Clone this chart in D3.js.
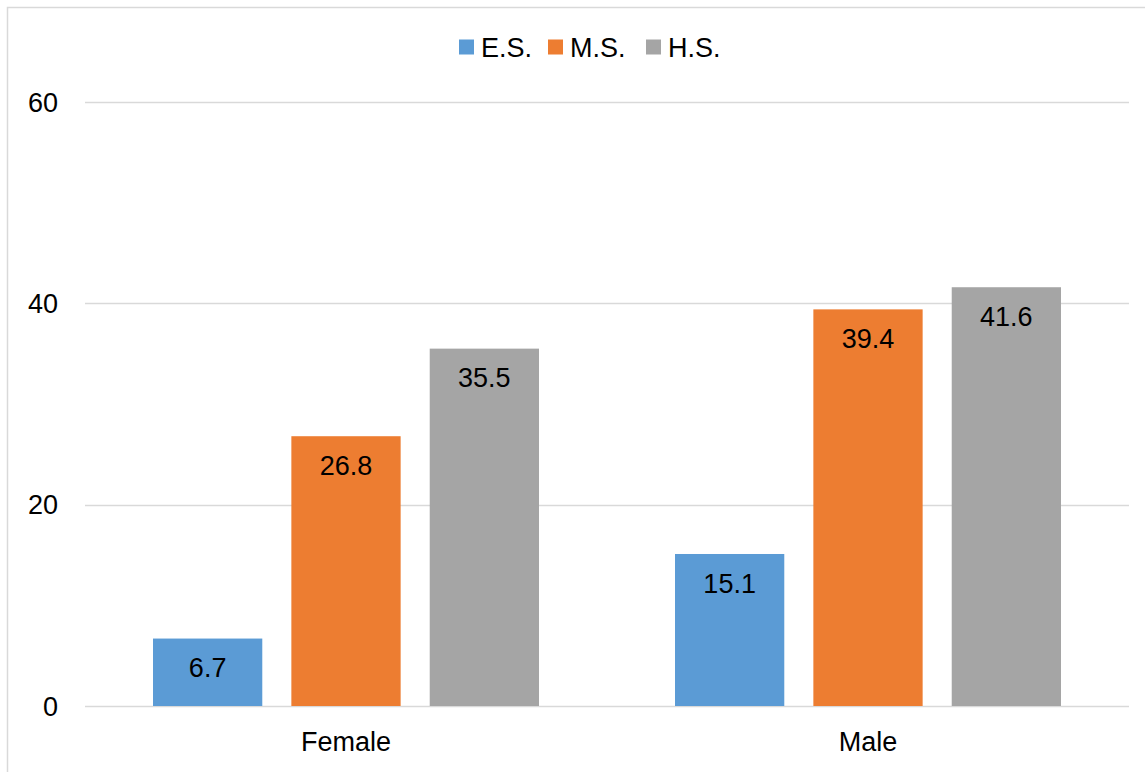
<!DOCTYPE html>
<html><head><meta charset="utf-8">
<script src="https://cdn.jsdelivr.net/npm/d3@7"></script>
<style>
html,body{margin:0;padding:0;background:#fff;}
svg{display:block;}
text{font-family:"Liberation Sans",Arial,sans-serif;fill:#000;}
</style></head>
<body>
<svg id="chart" width="1145" height="772"></svg>
<script>
const categories = ["Female", "Male"];
const seriesNames = ["E.S.", "M.S.", "H.S."];
const esValues = [6.7, 15.1];
const msValues = [26.8, 39.4];
const hsValues = [35.5, 41.6];
const yTicks = [0, 20, 40, 60];
const colors = ["#5B9BD5", "#ED7D31", "#A5A5A5"];

const seriesValues = [esValues, msValues, hsValues];
const svg = d3.select("#chart");
const margin = {left: 85, right: 1129, top: 102, bottom: 706};
const fs = 27;

// chart border
svg.append("path").attr("d", "M7.5,772 V7.5 H1145").attr("fill","none").attr("stroke","#D9D9D9").attr("stroke-width",1.5);

const x0 = d3.scaleBand().domain(categories).range([margin.left, margin.right]).paddingInner(0).paddingOuter(0);
const y = d3.scaleLinear().domain([0, 60]).range([margin.bottom, margin.top]);

// gridlines
svg.append("g").selectAll("line").data(yTicks).join("line")
  .attr("x1", margin.left).attr("x2", margin.right)
  .attr("y1", d => Math.round(y(d)) + 0.5).attr("y2", d => Math.round(y(d)) + 0.5)
  .attr("stroke", "#D9D9D9").attr("stroke-width", 1.3);

// y tick labels
svg.append("g").selectAll("text").data(yTicks).join("text")
  .attr("x", 58).attr("y", d => y(d)).attr("dy", "0.36em")
  .attr("text-anchor", "end").attr("font-size", fs).text(d => d);

// bars
const groupInner = 386;
const x1 = d3.scaleBand().domain(seriesNames).range([0, groupInner]).paddingInner(29/138).paddingOuter(0);
const data = [];
categories.forEach((c, ci) => seriesNames.forEach((s, si) => data.push({c, s, si, v: seriesValues[si][ci]})));
const g = svg.append("g");
g.selectAll("rect").data(data).join("rect")
  .attr("x", d => x0(d.c) + (x0.bandwidth() - groupInner) / 2 + x1(d.s))
  .attr("width", x1.bandwidth())
  .attr("y", d => y(d.v)).attr("height", d => y(0) - y(d.v))
  .attr("fill", d => colors[d.si]);
g.selectAll("text").data(data).join("text")
  .attr("x", d => x0(d.c) + (x0.bandwidth() - groupInner) / 2 + x1(d.s) + x1.bandwidth() / 2)
  .attr("y", d => y(d.v) + 29).attr("dy", "0.36em")
  .attr("text-anchor", "middle").attr("font-size", fs).text(d => d.v.toFixed(1));

// x labels
svg.append("g").selectAll("text").data(categories).join("text")
  .attr("x", d => x0(d) + x0.bandwidth() / 2).attr("y", 741).attr("dy", "0.36em")
  .attr("text-anchor", "middle").attr("font-size", fs).text(d => d);

// legend
const legendX = [459, 548, 646];
const lg = svg.append("g").selectAll("g").data(seriesNames).join("g")
  .attr("transform", (d, i) => `translate(${legendX[i]},47)`);
lg.append("rect").attr("x", 0).attr("y", -7.5).attr("width", 15).attr("height", 15).attr("fill", (d, i) => colors[i]);
lg.append("text").attr("x", 22).attr("y", 0).attr("dy", "0.36em").attr("font-size", fs).text(d => d);
</script>
</body></html>
